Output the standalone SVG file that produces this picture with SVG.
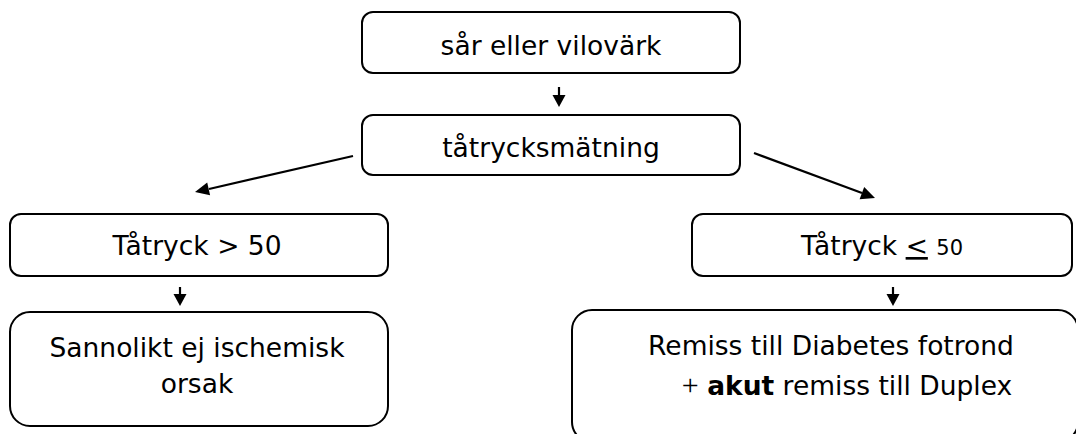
<svg xmlns="http://www.w3.org/2000/svg" width="1076" height="434" viewBox="0 0 1076 434">
<style>
.box{fill:#fff;stroke:#000;stroke-width:2}
.t{font-family:"DejaVu Sans",Verdana,sans-serif;font-size:26.5px;fill:#000}
.c{stroke:#000;stroke-width:2.2;fill:none}
.h{fill:#000;stroke:none}
</style>
<rect width="1076" height="434" fill="#fff"/>
<g id="connectors">
<line class="c" x1="559" y1="87" x2="559" y2="96"/>
<polygon class="h" points="552.5,95 565.5,95 559,107"/>
<line class="c" x1="353" y1="156" x2="209" y2="189"/>
<polygon class="h" points="195,192 210.1,195.2 207.2,182.5"/>
<line class="c" x1="754" y1="153" x2="862" y2="193"/>
<polygon class="h" points="875,198 859.6,199.2 864.2,187"/>
<line class="c" x1="180" y1="287" x2="180" y2="295"/>
<polygon class="h" points="173.5,294 186.5,294 180,306"/>
<line class="c" x1="893" y1="287" x2="893" y2="295"/>
<polygon class="h" points="886.5,294 899.5,294 893,306"/>
</g>
<g id="n1">
<rect class="box" x="362" y="12" width="378" height="61" rx="11"/>
<text class="t" x="551" y="55" text-anchor="middle">sår eller vilovärk</text>
</g>
<g id="n2">
<rect class="box" x="362" y="115" width="378" height="60" rx="11"/>
<text class="t" x="551" y="157" text-anchor="middle">tåtrycksmätning</text>
</g>
<g id="n3">
<rect class="box" x="10" y="214" width="378" height="62" rx="11"/>
<text class="t" x="197" y="255" text-anchor="middle">Tåtryck &gt; 50</text>
</g>
<g id="n4">
<rect class="box" x="692" y="214" width="380" height="62" rx="11"/>
<text class="t" x="882" y="255" text-anchor="middle">Tåtryck <tspan text-decoration="underline">&lt;</tspan> <tspan font-size="21">50</tspan></text>
</g>
<g id="n5">
<rect class="box" x="10" y="312" width="378" height="114" rx="20"/>
<text class="t" x="197" y="357" text-anchor="middle">Sannolikt ej ischemisk</text>
<text class="t" x="197" y="393" text-anchor="middle">orsak</text>
</g>
<g id="n6">
<rect class="box" x="572" y="310" width="506" height="132" rx="20"/>
<text class="t" x="831" y="355" text-anchor="middle">Remiss till Diabetes fotrond</text>
<text class="t" x="847" y="395" text-anchor="middle"><tspan font-family="'Liberation Serif',serif" font-size="30">+</tspan> <tspan font-weight="bold">akut</tspan> remiss till Duplex</text>
</g>
</svg>
